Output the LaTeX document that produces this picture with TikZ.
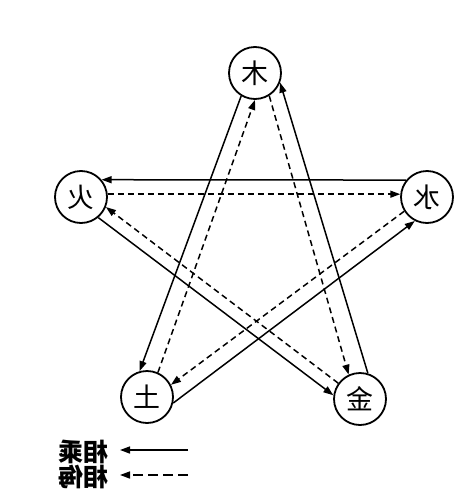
\documentclass[tikz,border=0pt]{standalone}
\usepackage{fontspec}
\newfontfamily\cjk{Noto Sans CJK SC}
\usetikzlibrary{arrows.meta}
\begin{document}
\begin{tikzpicture}[x=1pt,y=-1pt,
  elem/.style={circle,draw,line width=1.8pt,minimum size=52pt,inner sep=0pt,font=\cjk\fontsize{27}{27}\selectfont},
  sarrow/.style={line width=1.5pt,-{Triangle[length=10pt,width=7pt]}},
  darrow/.style={sarrow,dash pattern=on 6pt off 4pt},
  ldarrow/.style={sarrow,dash pattern=on 10pt off 5pt},
  lab/.style={font=\cjk\bfseries\fontsize{25}{25}\selectfont,inner sep=0pt}]
\useasboundingbox (0,0) rectangle (474,498);
\fill[white] (0,0) rectangle (474,498);
\node[elem] (mu)   at (255,73)  {\reflectbox{木}};
\node[elem] (huo)  at (81,197)  {\reflectbox{火}};
\node[elem] (shui) at (427,197) {\reflectbox{水}};
\node[elem] (tu)   at (147,397) {\reflectbox{土}};
\node[elem] (jin)  at (360,399) {\reflectbox{金}};
% 木 - 土
\draw[sarrow] (mu.239) -- (tu.106);
\draw[darrow] (tu.66) -- (mu.270);
% 木 - 金
\draw[darrow] (mu.302) -- (jin.115);
\draw[sarrow] (jin.73) -- (mu.339);
% 火 - 水
\draw[sarrow] (shui.141) -- (huo.40);
\draw[darrow] (huo.6) -- (shui.174);
% 火 - 金
\draw[sarrow] (huo.310) -- (jin.172);
\draw[darrow] (jin.144) -- (huo.338);
% 土 - 水
\draw[darrow] (shui.212) -- (tu.27);
\draw[sarrow] (tu.347) -- (shui.243);
% legend
\coordinate (l1s) at (188,450);
\coordinate (l1e) at (120,450);
\coordinate (l2s) at (188,475);
\coordinate (l2e) at (120,475);
\draw[sarrow] (l1s) -- (l1e);
\draw[ldarrow] (l2s) -- (l2e);
\node[lab] (t1) at (83,452) {\reflectbox{相乘}};
\node[lab] (t2) at (83,477) {\reflectbox{相侮}};
\end{tikzpicture}
\end{document}
